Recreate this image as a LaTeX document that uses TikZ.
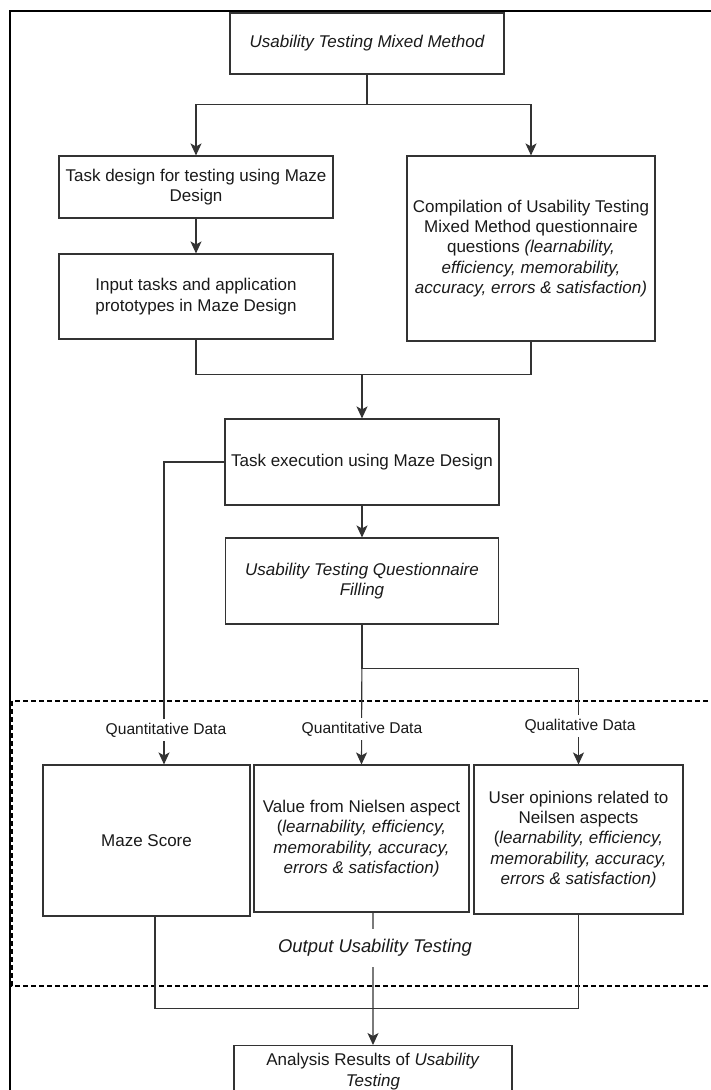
\documentclass[tikz,border=0pt]{standalone}
\usepackage{fontspec}
\setmainfont{Liberation Sans}
\usetikzlibrary{arrows.meta,calc}
\definecolor{linec}{HTML}{333333}
\definecolor{textc}{HTML}{1A1A1A}
\begin{document}
\begin{tikzpicture}[x=1bp,y=-1bp,
  box/.style={draw=linec, line width=1.1bp, text=textc, align=center, inner sep=0pt,
    font=\fontsize{17bp}{20.4bp}\selectfont},
  conn/.style={draw=linec, line width=1.1bp},
  arr/.style={conn, -{Stealth[length=12bp,width=11bp,inset=3bp]}},
  lbl/.style={fill=white, text=textc, inner xsep=2bp, inner ysep=4bp,
    font=\fontsize{15.6bp}{18.7bp}\selectfont},
  frame/.style={draw=black, line width=2bp},
  zone/.style={draw=black, line width=1.1bp, dash pattern=on 5bp off 3bp}]
\useasboundingbox (0,0) rectangle (711,1090);
\clip (0,0) rectangle (711,1090);
\fill[white] (0,0) rectangle (711,1090);

% outer frame (extends beyond the page)
\draw[frame] (10,1120) -- (10,11) -- (740,11);
% dashed output zone
\draw[zone] (740,701) -- (12,701) -- (12,986) -- (740,986);

% nodes
\node[box, minimum width=274bp, minimum height=61bp, font=\fontsize{17bp}{20.4bp}\selectfont\itshape] (top) at (367,43.5) {Usability Testing Mixed Method};
\node[box, minimum width=274bp, minimum height=62bp] (task) at (196,187) {Task design for testing using Maze\\Design};
\node[box, minimum width=274bp, minimum height=85bp] (input) at (196,296.5) {Input tasks and application\\prototypes in Maze Design};
\node[box, minimum width=248bp, minimum height=185bp] (comp) at (531,248.5) {Compilation of Usability Testing\\Mixed Method questionnaire\\questions \textit{(learnability,}\\\textit{efficiency, memorability,}\\\textit{accuracy, errors \& satisfaction)}};
\node[box, minimum width=274bp, minimum height=86bp] (exec) at (362,462) {Task execution using Maze Design};
\node[box, minimum width=273bp, minimum height=86bp, font=\fontsize{17bp}{20.4bp}\selectfont\itshape] (quest) at (362,581) {Usability Testing Questionnaire\\Filling};
\node[box, minimum width=207bp, minimum height=151bp] (maze) at (146.5,840.5) {Maze Score};
\node[box, minimum width=215bp, minimum height=147bp] (value) at (361.5,838.5) {Value from Nielsen aspect\\(\textit{learnability, efficiency,}\\\textit{memorability, accuracy,}\\\textit{errors \& satisfaction)}};
\node[box, minimum width=209bp, minimum height=149bp] (user) at (578.5,839.5) {User opinions related to\\Neilsen aspects\\(\textit{learnability, efficiency,}\\\textit{memorability, accuracy,}\\\textit{errors \& satisfaction)}};
\node[box, minimum width=278bp, minimum height=52bp, anchor=north] (final) at (373,1045) {Analysis Results of \textit{Usability}\\\textit{Testing}};

% connectors
\draw[arr] (top.south) -- ++(0,29.5) -| (task.north);
\draw[arr] (top.south) -- ++(0,29.5) -| (comp.north);
\draw[arr] (task) -- (input);
\draw[conn] (input.south) -- ++(0,35) -| (comp.south);
\coordinate (merge) at (362,374);
\draw[arr] (merge) -- (exec.north);
\draw[arr] (exec) -- (quest);

\coordinate (mazein) at ($(maze.north)+(17.5,0)$);
\draw[arr] (exec.west) -| (mazein);
\node[lbl] (q1) at (166,730) {Quantitative Data};

\draw[arr] (quest.south) -- (value.north);
\node[lbl] (q2) at (362,729) {Quantitative Data};
\draw[arr] (quest.south) -- ++(0,44) -| (user.north);
\node[lbl] (q3) at (580,726) {Qualitative Data};

\coordinate (mazeout) at ($(maze.south)+(8.5,0)$);
\draw[conn] (mazeout) -- ++(0,92) -| (user.south);
\coordinate (valout) at ($(value.south)+(11.5,0)$);
\draw[arr] (valout) -- (final.north);
\node[fill=white, text=textc, inner xsep=3bp, inner ysep=10bp,
  font=\fontsize{18.4bp}{22bp}\selectfont\itshape] (out) at (375,948) {Output Usability Testing};
\end{tikzpicture}
\end{document}
